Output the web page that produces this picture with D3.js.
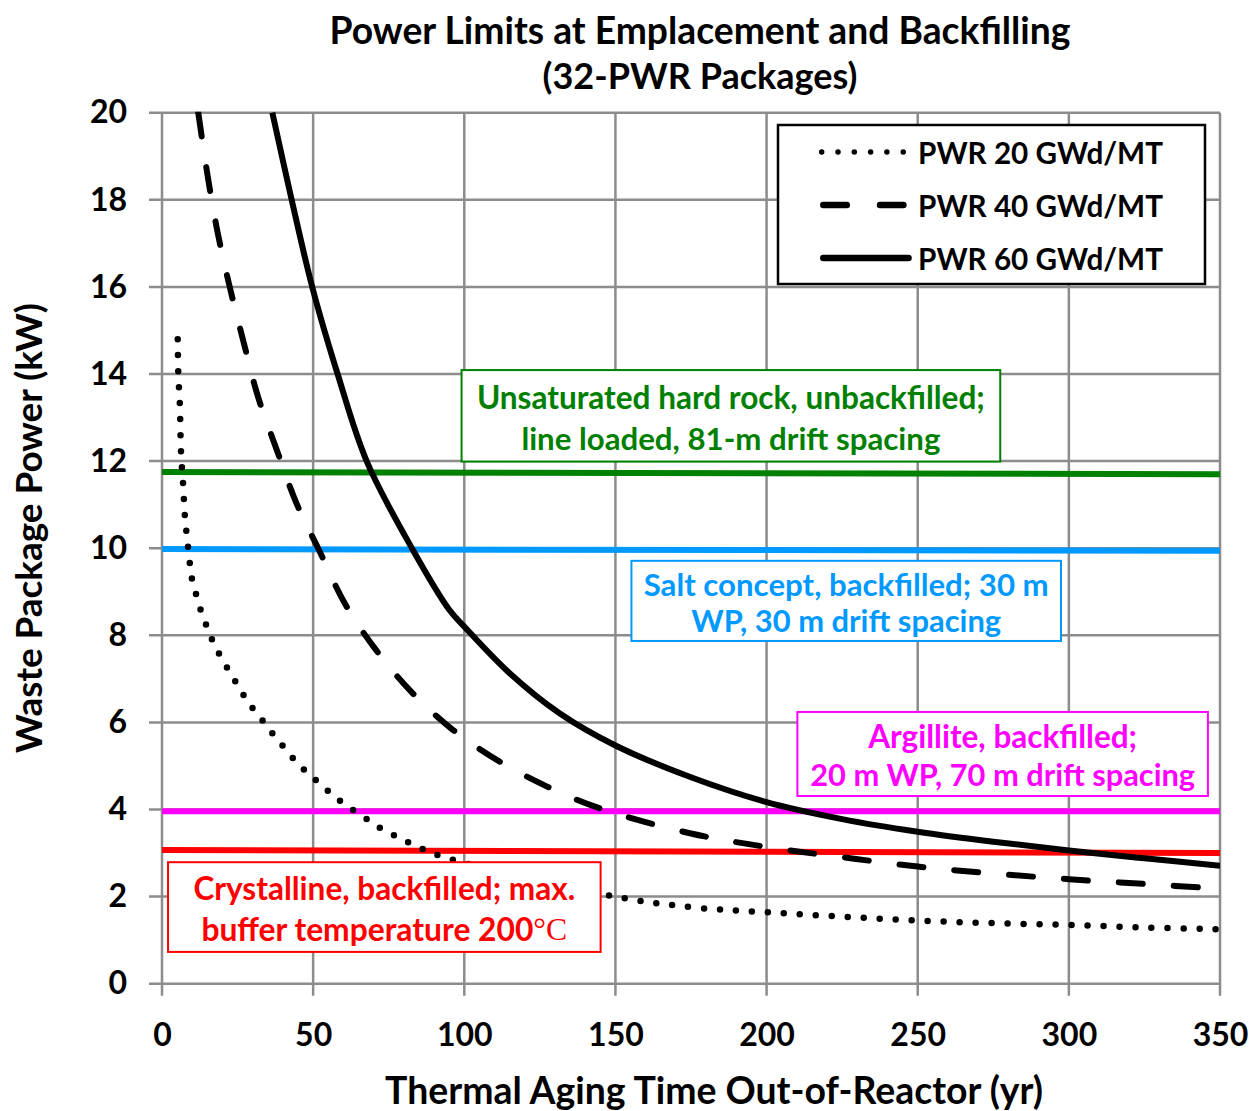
<!DOCTYPE html>
<html><head><meta charset="utf-8">
<script src="https://cdn.jsdelivr.net/npm/d3@7"></script>
<style>
html,body{margin:0;padding:0;background:#fff;}
svg text{font-family:Lato,"Open Sans",sans-serif;font-weight:700;}
</style></head>
<body>
<svg id="chart" width="1255" height="1111"></svg>
<script>
// ---------- DATA ----------
const xTickValues = [0, 50, 100, 150, 200, 250, 300, 350];
const yTickValues = [0, 2, 4, 6, 8, 10, 12, 14, 16, 18, 20];

const pwr20Years = [5.2, 5.4, 5.9, 6.3, 7.0, 7.6, 8.2, 9.3, 10.1, 11.5, 13.1, 15.0, 17.0, 19.4, 22.1, 24.9, 27.7, 30.7, 34.0, 37.2, 40.8, 44.2, 48.0, 51.8, 55.9, 60.1, 69.0, 73.3, 78.1, 82.9, 92.7, 150, 176, 200, 225, 250, 275, 300, 325, 350];
const pwr20Power = [14.8, 14.0, 13.3, 12.2, 11.45, 10.7, 10.3, 9.6, 9.23, 8.89, 8.52, 8.17, 7.83, 7.51, 7.19, 6.87, 6.55, 6.26, 5.98, 5.69, 5.39, 5.11, 4.85, 4.62, 4.37, 4.14, 3.72, 3.53, 3.36, 3.20, 2.92, 2.0, 1.75, 1.64, 1.54, 1.45, 1.39, 1.35, 1.29, 1.25];

const pwr40Years = [12.0, 15.1, 18.4, 22.4, 27.0, 31.7, 38.0, 44.5, 52.2, 60.5, 70.4, 82.5, 96.2, 111.7, 127.6, 144.7, 175, 200, 225, 250, 275, 300, 325, 350];
const pwr40Power = [20.0, 18.55, 17.25, 16.0, 14.73, 13.49, 12.25, 11.03, 9.92, 8.73, 7.70, 6.70, 5.83, 5.10, 4.52, 4.03, 3.45, 3.14, 2.905, 2.69, 2.53, 2.40, 2.29, 2.18];

const pwr60Years = [36.5, 42.9, 49.7, 58.1, 67.7, 83.0, 95.1, 100, 115, 131.5, 150, 175, 200, 225, 250, 275, 300, 325, 350];
const pwr60Power = [20.0, 18.0, 16.0, 14.0, 12.0, 9.96, 8.58, 8.2, 7.13, 6.21, 5.47, 4.74, 4.17, 3.78, 3.49, 3.26, 3.06, 2.88, 2.71];

const seriesNames = ["PWR 20 GWd/MT", "PWR 40 GWd/MT", "PWR 60 GWd/MT"];

const limitNames = ["Unsaturated hard rock", "Salt concept", "Argillite", "Crystalline"];
const limitStartPower = [11.75, 9.98, 3.96, 3.07];
const limitEndPower = [11.70, 9.94, 3.96, 3.00];
const limitLabels = [
  ["Unsaturated hard rock, unbackfilled;", "line loaded, 81-m drift spacing"],
  ["Salt concept, backfilled; 30 m", "WP, 30 m drift spacing"],
  ["Argillite, backfilled;", "20 m WP, 70 m drift spacing"],
  ["Crystalline, backfilled; max.", "buffer temperature 200"]
];

const titleLines = ["Power Limits at Emplacement and Backfilling", "(32-PWR Packages)"];
const xAxisTitle = "Thermal Aging Time Out-of-Reactor (yr)";
const yAxisTitle = "Waste Package Power (kW)";

// ---------- LAYOUT / STYLE ----------
const plot = {left: 162, right: 1220, top: 112.7, bottom: 983.7};
const limitColors = ["#008000", "#0099ff", "#ff00ff", "#ff0000"];
// label boxes in data units: [x0, x1, yTop, yBottom]
const boxExtent = [
  [99.1, 277.3, 14.09, 11.99],
  [155.3, 297.4, 9.71, 7.87],
  [210.2, 346.0, 6.24, 4.31],
  [2.0, 145.1, 2.79, 0.73]
];
const boxLineWidths = [[508, 419], [405, 310], [269, 385], [382, 366]];
const gridColor = "#8c8c8c";

const svg = d3.select("#chart");
const x = d3.scaleLinear().domain([0, 350]).range([plot.left, plot.right]);
const y = d3.scaleLinear().domain([0, 20]).range([plot.bottom, plot.top]);

function fit(sel, target, base) {
  sel.style("font-size", base + "px");
  const w = sel.node().getComputedTextLength();
  sel.style("font-size", (base * target / w).toFixed(2) + "px");
}

// gridlines
svg.append("g").selectAll("line").data(xTickValues).join("line")
  .attr("x1", d => x(d)).attr("x2", d => x(d))
  .attr("y1", plot.top).attr("y2", plot.bottom + 12)
  .attr("stroke", gridColor).attr("stroke-width", 2.5);
svg.append("g").selectAll("line").data(yTickValues).join("line")
  .attr("x1", plot.left - 13).attr("x2", plot.right)
  .attr("y1", d => y(d)).attr("y2", d => y(d))
  .attr("stroke", gridColor).attr("stroke-width", 2.5);

// axes labels via d3 axes (domain/ticks hidden, only text)
const xAxis = svg.append("g").attr("transform", `translate(0,${plot.bottom})`)
  .call(d3.axisBottom(x).tickValues(xTickValues).tickSize(0).tickPadding(38));
const yAxis = svg.append("g").attr("transform", `translate(${plot.left},0)`)
  .call(d3.axisLeft(y).tickValues(yTickValues).tickSize(0).tickPadding(35));
[xAxis, yAxis].forEach(a => {
  a.select(".domain").remove();
  a.selectAll("text").style("font-size", "32px").attr("fill", "#000")
    .style("font-family", "Lato").style("font-weight", 700);
});
xAxis.selectAll("text").attr("dy", "0.71em").attr("y", 40);

// clip
svg.append("clipPath").attr("id", "clip").append("rect")
  .attr("x", plot.left).attr("y", plot.top - 1)
  .attr("width", plot.right - plot.left).attr("height", plot.bottom - plot.top + 1);

// threshold lines
const limits = limitNames.map((n, i) => [[0, limitStartPower[i]], [350, limitEndPower[i]]]);
svg.append("g").selectAll("path").data(limits).join("path")
  .attr("d", d3.line().x(d => x(d[0])).y(d => y(d[1])))
  .attr("fill", "none").attr("stroke", (d, i) => limitColors[i]).attr("stroke-width", 6);

// curves
const curveData = [
  pwr20Years.map((t, i) => [t, pwr20Power[i]]),
  pwr40Years.map((t, i) => [t, pwr40Power[i]]),
  pwr60Years.map((t, i) => [t, pwr60Power[i]])
];
const dashes = ["0,16", "24,31", null];
const line = d3.line().x(d => x(d[0])).y(d => y(d[1])).curve(d3.curveCatmullRom.alpha(0.5));
svg.append("g").attr("clip-path", "url(#clip)").selectAll("path").data(curveData).join("path")
  .attr("d", line).attr("fill", "none").attr("stroke", "#000")
  .attr("stroke-width", (d, i) => i === 0 ? 6.5 : 6)
  .attr("stroke-linecap", (d, i) => i === 2 ? "butt" : "round")
  .attr("stroke-linejoin", "round")
  .attr("stroke-dasharray", (d, i) => dashes[i]);

// label boxes
boxExtent.forEach((b, i) => {
  const g = svg.append("g");
  const x0 = x(b[0]), x1 = x(b[1]), y0 = y(b[2]), y1 = y(b[3]);
  g.append("rect").attr("x", x0).attr("y", y0).attr("width", x1 - x0).attr("height", y1 - y0)
    .attr("fill", "#fff").attr("stroke", limitColors[i]).attr("stroke-width", 2);
  const cx = (x0 + x1) / 2, h = y1 - y0;
  limitLabels[i].forEach((txt, j) => {
    const t = g.append("text").attr("x", cx).attr("y", y0 + h * (j === 0 ? 0.29 : 0.74))
      .attr("text-anchor", "middle").attr("dominant-baseline", "central")
      .attr("fill", limitColors[i]).text(txt);
    if (i === 3 && j === 1) {
      t.append("tspan").style("font-family", "'Liberation Serif'").style("font-weight", 400).text("\u00B0C");
    }
    fit(t, boxLineWidths[i][j], 28);
  });
});

// legend
const lg = svg.append("g");
lg.append("rect").attr("x", 778).attr("y", 125).attr("width", 427).attr("height", 159)
  .attr("fill", "#fff").attr("stroke", "#000").attr("stroke-width", 2.5);
const legendX1 = [821.7, 823.3, 823.3];
const legendX2 = [904.5, 903.4, 908.5];
const legendDash = ["0,16.3", "23.5,33.2", null];
seriesNames.forEach((n, i) => {
  const yy = 152 + i * 53;
  lg.append("line").attr("x1", legendX1[i]).attr("x2", legendX2[i])
    .attr("y1", yy).attr("y2", yy).attr("stroke", "#000")
    .attr("stroke-width", i === 0 ? 5.5 : 6.5)
    .attr("stroke-linecap", "round")
    .attr("stroke-dasharray", legendDash[i]);
  const t = lg.append("text").attr("x", 918).attr("y", yy).attr("dominant-baseline", "central")
    .attr("fill", "#000").text(n);
  fit(t, 245, 28);
});

// titles
titleLines.forEach((s, i) => {
  const t = svg.append("text").attr("x", 700).attr("y", i === 0 ? 29 : 75)
    .attr("text-anchor", "middle").attr("dominant-baseline", "central").attr("fill", "#000").text(s);
  fit(t, i === 0 ? 741 : 315, 30);
});
const xt = svg.append("text").attr("x", 714).attr("y", 1089).attr("text-anchor", "middle")
  .attr("dominant-baseline", "central").attr("fill", "#000").text(xAxisTitle);
fit(xt, 658, 30);
const yt = svg.append("text").attr("transform", "translate(28,528) rotate(-90)")
  .attr("text-anchor", "middle").attr("dominant-baseline", "central").attr("fill", "#000").text(yAxisTitle);
fit(yt, 450, 30);
</script>
</body></html>
